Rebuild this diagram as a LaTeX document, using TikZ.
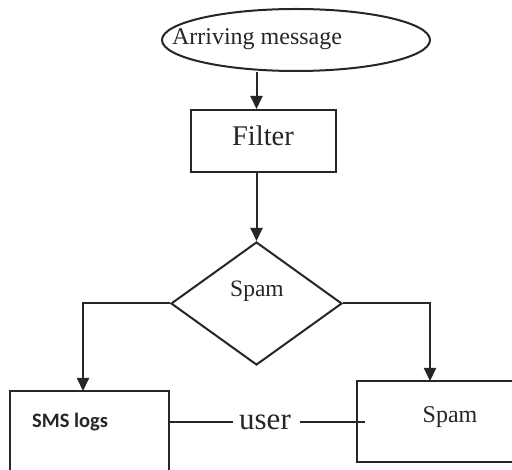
\documentclass[tikz,border=0pt]{standalone}
\usepackage{fontspec}
\setmainfont{Liberation Serif}
\newfontfamily\calfont{Carlito}
\usetikzlibrary{shapes.geometric,arrows.meta}
\tikzset{
  line/.style={draw=black!85, line width=2pt},
  arr/.style={line, -{Triangle[length=13pt,width=12pt]}},
  txt/.style={anchor=base, inner sep=0pt, text=black!85},
  boxshape/.style={line, rectangle, inner sep=0pt},
  openbox/.style={rectangle, inner sep=0pt},
}
\newcommand{\fs}[1]{\fontsize{#1}{#1}\selectfont}
\begin{document}
\begin{tikzpicture}[x=1pt,y=-1pt]
\useasboundingbox (0,0) rectangle (512,470);
\clip (0,0) rectangle (512,470);
\fill[white] (0,0) rectangle (512,470);

% start: incoming message
\node[line, ellipse, minimum width=268pt, minimum height=62pt, inner sep=0pt] (ell) at (296,40) {};
\node[txt] (elltxt) at (257,45) {\fs{24}Arriving message};

% filter step
\node[boxshape, minimum width=145pt, minimum height=62pt] (filter) at (263.5,141) {};
\node[txt] (filtertxt) at (263,146) {\fs{28.5}Filter};

% decision
\node[line, diamond, minimum width=171pt, minimum height=123pt, inner sep=0pt] (dia) at (256.5,303.5) {};
\node[txt] (diatxt) at (257,297) {\fs{23.5}Spam};

% outcomes (both boxes run past the edge of the page)
\node[openbox, minimum width=159pt, minimum height=100pt] (sms) at (89.5,441) {};
\draw[line] (sms.south west) -- (sms.north west) -- (sms.north east) -- (sms.south east);
\node[txt, anchor=base west] (smstxt) at (32,428) {\calfont\bfseries\fs{20.5}SMS logs};
\node[openbox, minimum width=175pt, minimum height=81pt] (spam) at (444.5,421.5) {};
\draw[line] (spam.north east) -- (spam.north west) -- (spam.south west) -- (spam.south east);
\node[txt] (spamtxt) at (450,423) {\fs{24}Spam};

% entry points of the arrows
\coordinate (smsin) at (83,391);
\coordinate (spamin) at (430,381);

% connectors
\draw[arr] (dia.north |- ell.south) -- (dia.north |- filter.north);
\draw[arr] (dia.north |- filter.south) -- (dia.north);
\draw[arr] (dia.west) -| (smsin);
\draw[arr] (dia.east) -| (spamin);

% user link between the two outcomes
\node[txt, inner xsep=7pt] (user) at (265,430) {\fs{31}user};
\coordinate (userend) at (365,422);
\draw[line] (sms.east |- userend) -- (233,422);
\draw[line] (300,422) -- (userend);
\end{tikzpicture}
\end{document}
